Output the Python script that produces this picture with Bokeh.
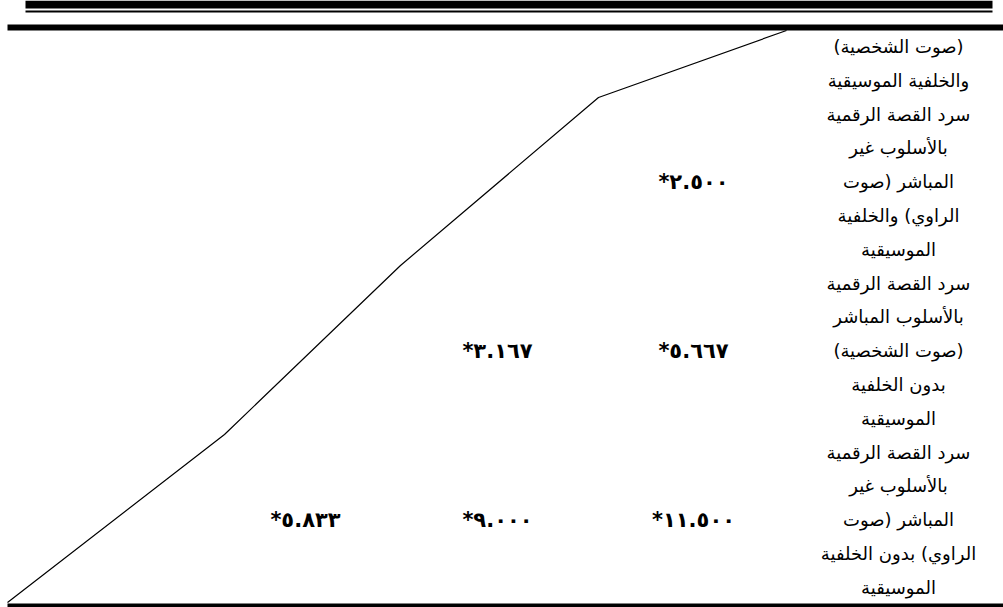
from bokeh.plotting import figure
from bokeh.models import Range1d
from bokeh.core.properties import value
from bokeh.embed import file_html
from bokeh.resources import INLINE

# ---- data ----
# row labels (right column), each split into its printed lines
row_label_lines = [
    ["(صوت الشخصية)", "والخلفية الموسيقية"],
    ["سرد القصة الرقمية", "بالأسلوب غير", "المباشر (صوت", "الراوي) والخلفية", "الموسيقية"],
    ["سرد القصة الرقمية", "بالأسلوب المباشر", "(صوت الشخصية)", "بدون الخلفية", "الموسيقية"],
    ["سرد القصة الرقمية", "بالأسلوب غير", "المباشر (صوت", "الراوي) بدون الخلفية", "الموسيقية"],
]
# cell values per row (column 1 = nearest to labels)
cell_values = [
    [],
    ["*٢.٥٠٠"],
    ["*٥.٦٦٧", "*٣.١٦٧"],
    ["*١١.٥٠٠", "*٩.٠٠٠", "*٥.٨٣٣"],
]
# diagonal header line vertices
diag_x = [7, 224, 400, 598, 786]
diag_y = [602, 434, 265, 97, 30]
# horizontal rules: left, right, top, bottom
rule_left = [25, 25, 7, 7]
rule_right = [992, 992, 1003, 1003]
rule_top = [0, 10, 24, 603]
rule_bottom = [8, 12, 30, 607]

W, H = 1003, 607
p = figure(width=W, height=H, output_backend="svg", toolbar_location=None,
           x_range=Range1d(0, W), y_range=Range1d(H, 0),
           min_border=0, min_border_left=0, min_border_right=0,
           min_border_top=0, min_border_bottom=0)
p.axis.visible = False
p.grid.visible = False
p.outline_line_color = None
p.background_fill_color = "white"
p.border_fill_color = "white"

p.quad(left=rule_left, right=rule_right, top=rule_top, bottom=rule_bottom,
       fill_color="black", line_color=None)
p.line(diag_x, diag_y, line_color="black", line_width=1.2)

# label lines
label_x = 898
first_y = 46
spacing = 33.8
lx, ly, lt = [], [], []
row_mid_y = []
i = 0
for lines in row_label_lines:
    start = i
    for t in lines:
        lx.append(label_x)
        ly.append(first_y + i * spacing)
        lt.append(t)
        i += 1
    row_mid_y.append(first_y + (start + (len(lines) - 1) / 2) * spacing)
p.text(x=lx, y=ly, text=lt, text_align="center", text_baseline="middle",
       text_font=value("DejaVu Sans"), text_font_size="18px", text_color="black")

col_x = [693, 497, 305]
vx, vy, vt = [], [], []
for r, vals in enumerate(cell_values):
    for c, v in enumerate(vals):
        vx.append(col_x[c])
        vy.append(row_mid_y[r])
        vt.append(v)
p.text(x=vx, y=vy, text=vt, text_align="center", text_baseline="middle",
       text_font=value("DejaVu Sans"), text_font_style="bold",
       text_font_size="21px", text_color="black")

open("out.html", "w").write(file_html(p, INLINE))
